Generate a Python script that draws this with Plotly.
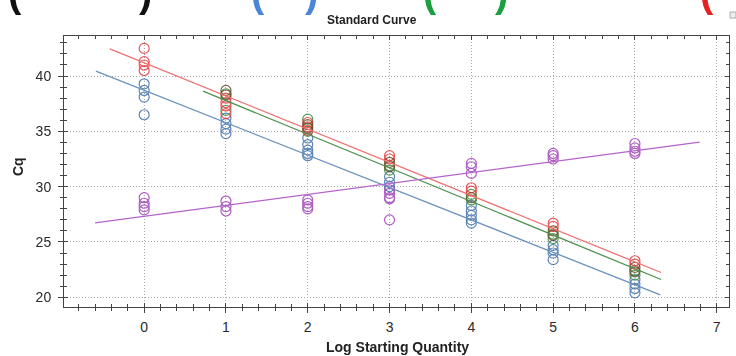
import plotly.graph_objects as go

# ---------------- data ----------------
red_x = [0, 0, 0, 0, 1, 1, 1, 1, 2, 2, 2, 3, 3, 4, 4, 5, 5, 6, 6]
red_cq = [42.5, 41.3, 41.0, 40.5, 38.0, 37.6, 37.3, 36.6, 35.8, 35.4, 35.1,
          32.8, 32.5, 29.9, 29.6, 26.7, 26.4, 23.3, 23.0]

green_x = [1, 1, 2, 2, 3, 3, 4, 4, 5, 5, 6, 6]
green_cq = [38.4, 36.9, 36.1, 35.0, 31.9, 31.5, 29.3, 28.8, 25.7, 25.3, 22.4, 22.0]

dark_x = [1, 1, 2, 2, 3, 3, 4, 5, 5, 6, 6]
dark_cq = [38.7, 38.3, 35.6, 35.3, 32.2, 31.8, 29.0, 26.0, 25.6, 22.7, 22.3]

blue_x = [0, 0, 0, 0, 1, 1, 1, 1, 2, 2, 2, 2, 2, 3, 3, 3, 4, 4, 4, 4, 4,
          5, 5, 5, 5, 6, 6, 6, 6]
blue_cq = [39.3, 38.7, 38.1, 36.5, 36.2, 35.7, 35.2, 34.8, 34.4, 33.8, 33.3, 33.0, 32.8,
           30.9, 30.4, 30.0, 28.3, 27.8, 27.4, 27.0, 26.7,
           24.7, 24.3, 24.0, 23.4, 21.6, 21.2, 20.8, 20.4]

purple_x = [0, 0, 0, 0, 1, 1, 1, 2, 2, 2, 2, 3, 3, 3, 3, 3, 4, 4, 4, 5, 5, 5, 6, 6, 6, 6]
purple_cq = [29.0, 28.5, 28.2, 27.9, 28.7, 28.2, 27.8, 28.8, 28.5, 28.2, 28.0,
             29.7, 29.4, 29.0, 28.9, 27.0, 32.1, 31.8, 31.2, 33.0, 32.8, 32.5,
             33.9, 33.5, 33.2, 33.0]

# regression lines: name -> slope, intercept, x start, x end
fit_names = ["red", "green", "blue", "purple"]
fit_slope = [-3.00, -3.04, -2.93, 0.99]
fit_intercept = [41.20, 40.82, 38.71, 27.31]
fit_xstart = [-0.42, 0.72, -0.59, -0.60]
fit_xend = [6.32, 6.32, 6.31, 6.79]

x_ticks = [0, 1, 2, 3, 4, 5, 6, 7]
y_ticks = [20, 25, 30, 35, 40]

# ---------------- style ----------------
marker_col = {"red": "#e8383c", "green": "#3a8f3a", "dark": "#6a4a2a",
              "blue": "#3f6fa8", "purple": "#a040b8"}
line_col = {"red": "#f07070", "green": "#4f9150", "blue": "#6a92bc", "purple": "#b564cc"}

W, H = 736, 356
ML, MR, MT, MB = 64, 7, 36, 49
PH = H - MT - MB
PW = W - ML - MR


def py(p):
    return 1 + (MT - p) / PH


def px(p):
    return (p - ML) / PW


fig = go.Figure()

for name, xs, ys in [("blue", blue_x, blue_cq), ("purple", purple_x, purple_cq),
                     ("green", green_x, green_cq), ("red", red_x, red_cq),
                     ("dark", dark_x, dark_cq)]:
    fig.add_trace(go.Scatter(
        x=xs, y=ys, mode="markers", showlegend=False,
        marker=dict(symbol="circle-open", size=10, color=marker_col[name],
                    line=dict(width=1.2, color=marker_col[name])),
        opacity=0.85))

for i, name in enumerate(fit_names):
    xs = [fit_xstart[i], fit_xend[i]]
    ys = [fit_intercept[i] + fit_slope[i] * v for v in xs]
    fig.add_trace(go.Scatter(x=xs, y=ys, mode="lines", showlegend=False,
                             line=dict(color=line_col[name], width=1.3)))

# invisible trace on overlay axes
fig.add_trace(go.Scatter(x=[0], y=[30], xaxis="x2", yaxis="y2", mode="markers",
                         marker=dict(opacity=0), showlegend=False, hoverinfo="skip"))

XR = [-0.98, 7.15]
YR = [19.12, 43.62]
axis_col = "#444444"
tick_font = dict(family="Liberation Sans, Arial, sans-serif", size=14, color="#2a2a2a")
grid_dash = "1px,2px"

fig.update_layout(
    width=W, height=H,
    margin=dict(l=ML, r=MR, t=MT, b=MB, autoexpand=False),
    paper_bgcolor="white", plot_bgcolor="white",
    xaxis=dict(range=XR, tickvals=x_ticks, ticks="outside", ticklen=5, tickcolor=axis_col,
               showline=True, linecolor=axis_col, linewidth=1, mirror=True,
               showgrid=True, gridcolor="#a8a8a8", griddash=grid_dash, gridwidth=1,
               zeroline=False, tickfont=tick_font, ticklabelstandoff=2,
               minor=dict(dtick=0.2, tick0=0, ticks="outside", ticklen=3, tickcolor=axis_col,
                          showgrid=False)),
    yaxis=dict(range=YR, tickvals=y_ticks, ticks="outside", ticklen=5, tickcolor=axis_col,
               showline=True, linecolor=axis_col, linewidth=1, mirror=True,
               showgrid=True, gridcolor="#a8a8a8", griddash=grid_dash, gridwidth=1,
               zeroline=False, tickfont=tick_font, ticklabelstandoff=4,
               minor=dict(dtick=1, tick0=0, ticks="outside", ticklen=3, tickcolor=axis_col,
                          showgrid=False)),
    xaxis2=dict(range=XR, overlaying="x", anchor="y", side="bottom", tickvals=x_ticks,
                ticks="inside", ticklen=4, tickcolor=axis_col, showticklabels=False,
                showgrid=False, zeroline=False, mirror="allticks", showline=True,
                linecolor=axis_col,
                minor=dict(dtick=0.2, tick0=0, ticks="inside", ticklen=3, tickcolor=axis_col)),
    yaxis2=dict(range=YR, overlaying="y", anchor="x", side="left", tickvals=y_ticks,
                ticks="inside", ticklen=4, tickcolor=axis_col, showticklabels=False,
                showgrid=False, zeroline=False, mirror="allticks", showline=True,
                linecolor=axis_col,
                minor=dict(dtick=1, tick0=0, ticks="inside", ticklen=3, tickcolor=axis_col)),
)

bold_font = dict(family="Liberation Sans, Arial, sans-serif", size=14, color="#222222")
annotations = [
    dict(text="<b>Standard Curve</b>", x=px(372), y=py(20), xref="paper", yref="paper",
         xanchor="center", yanchor="middle", showarrow=False,
         font=dict(family="Liberation Sans, Arial, sans-serif", size=12, color="#222222")),
    dict(text="<b>Cq</b>", x=px(18), y=py(167), xref="paper", yref="paper",
         xanchor="center", yanchor="middle", showarrow=False, textangle=-90, font=bold_font),
    dict(text="<b>Log Starting Quantity</b>", x=px(397), y=py(347), xref="paper",
         yref="paper", xanchor="center", yanchor="middle", showarrow=False, font=bold_font),
]
# partially visible brackets at the very top
for t, xp, col in [("(", 15, "#111111"), (")", 145, "#111111"),
                   ("(", 258, "#4a86d8"), (")", 311, "#4a86d8"),
                   ("(", 430, "#1aa040"), (")", 501, "#1aa040"),
                   ("(", 707, "#e82020")]:
    annotations.append(dict(text="<b>" + t + "</b>", x=px(xp), y=py(17), xref="paper",
                            yref="paper", xanchor="center", yanchor="bottom",
                            showarrow=False,
                            font=dict(family="Liberation Sans, Arial, sans-serif",
                                      size=40, color=col)))
fig.update_layout(annotations=annotations)

# small grey box at top-right
fig.add_shape(type="rect", xref="paper", yref="paper", x0=px(730), x1=px(736),
              y0=py(18), y1=py(12), line=dict(color="#aaaaaa", width=1),
              fillcolor="#eeeeee")

fig.write_html("out.html", config={"displayModeBar": False},
               post_script="document.body.style.margin='0px';")
